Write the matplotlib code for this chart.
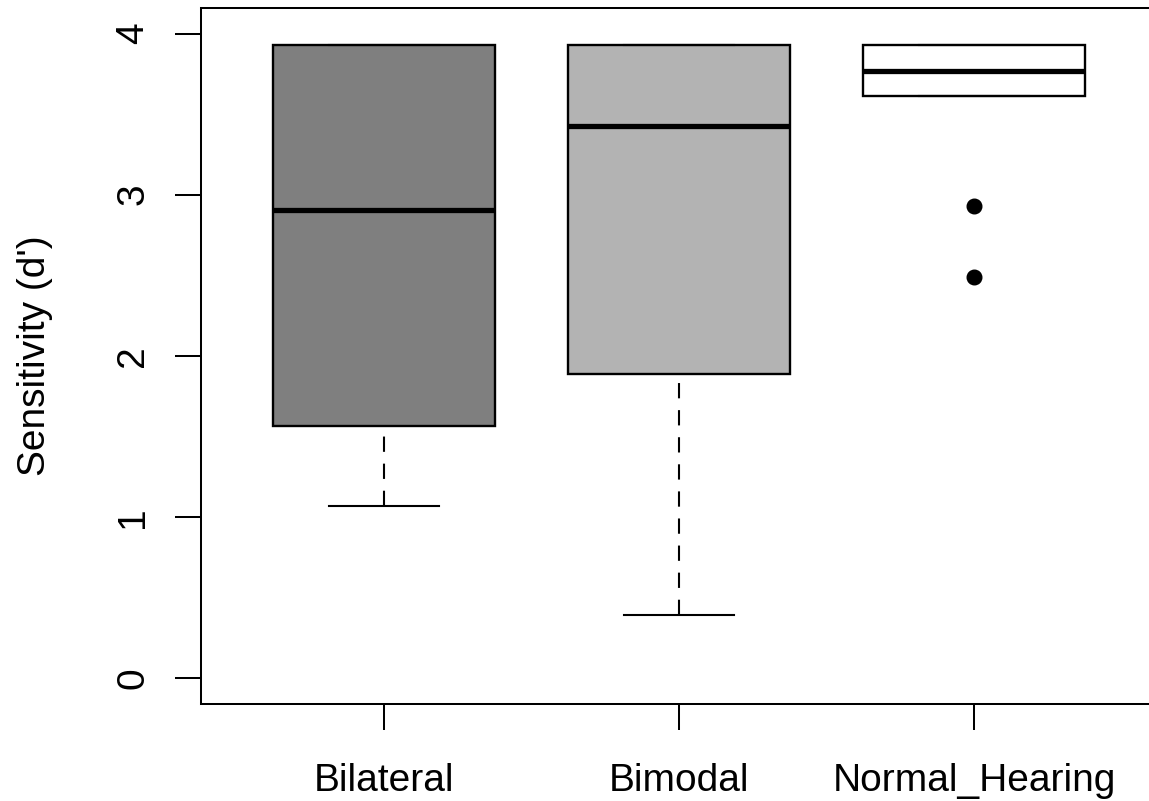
import matplotlib
matplotlib.use("Agg")
import matplotlib.pyplot as plt

# summary statistics per group (d')
groups = ["Bilateral", "Bimodal", "Normal_Hearing"]
whislo = [1.064, 0.387, 3.615]
q1 = [1.561, 1.884, 3.615]
med = [2.907, 3.429, 3.770]
q3 = [3.932, 3.932, 3.932]
whishi = [3.932, 3.932, 3.932]
fliers = [[], [], [2.932, 2.491]]
box_colors = ["#7f7f7f", "#b3b3b3", "#ffffff"]

plt.rcParams["font.family"] = ["Liberation Sans", "DejaVu Sans"]
plt.rcParams["lines.scale_dashes"] = False

W, H = 1149, 801
fig = plt.figure(figsize=(W / 100, H / 100), dpi=100)
ax = fig.add_axes([201 / W, (H - 703.5) / H, (1157 - 201) / W, (703.5 - 7.8) / H])

stats = []
for i, g in enumerate(groups):
    stats.append(dict(label=g, whislo=whislo[i], q1=q1[i], med=med[i],
                      q3=q3[i], whishi=whishi[i], fliers=fliers[i]))

bp = ax.bxp(stats, positions=[1, 2, 3], widths=0.75, capwidths=0.375,
            patch_artist=True, showfliers=True,
            boxprops=dict(linewidth=1.7, edgecolor="black"),
            medianprops=dict(color="black", linewidth=3.8, solid_capstyle="butt"),
            whiskerprops=dict(color="black", linewidth=1.5, linestyle=(0, (11, 8.5))),
            capprops=dict(color="black", linewidth=1.5),
            flierprops=dict(marker="o", markerfacecolor="black",
                            markeredgecolor="black", markersize=10.5))

for patch, c in zip(bp["boxes"], box_colors):
    patch.set_facecolor(c)

# dashes run from the whisker end toward the box
for ln in bp["whiskers"]:
    x, y = ln.get_data()
    ln.set_data(x[::-1], y[::-1])

ax.set_xlim(0.38, 3.62)
ax.set_ylim(-0.16, 4.16)
ax.set_yticks([0, 1, 2, 3, 4])
ax.set_yticklabels(["0", "1", "2", "3", "4"], rotation=90, va="center")
ax.set_xticks([1, 2, 3])
ax.set_xticklabels(groups)

for sp in ax.spines.values():
    sp.set_linewidth(1.45)
ax.spines["right"].set_visible(False)
ax.tick_params(axis="both", labelsize=28, length=18.7, width=1.45)
ax.tick_params(axis="x", pad=24)
ax.tick_params(axis="y", pad=17)
ax.set_ylabel("Sensitivity (d')", fontsize=28, labelpad=45)

fig.savefig("out.png", dpi=100)
